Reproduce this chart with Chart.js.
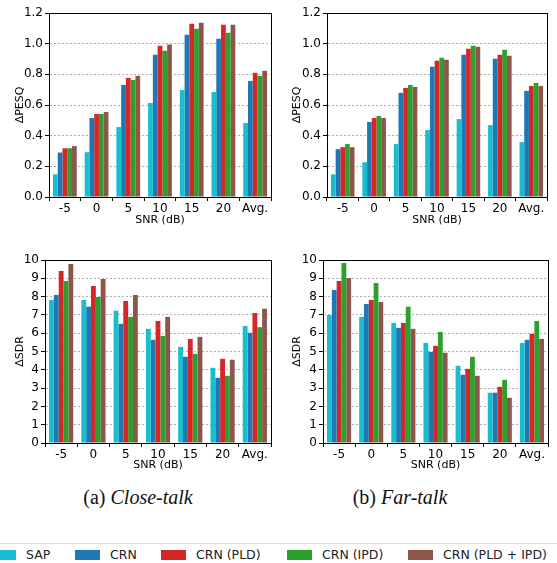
<!DOCTYPE html>
<html>
<head>
<meta charset="utf-8">
<script src="https://cdn.jsdelivr.net/npm/chart.js@4"></script>
<style>
  body { margin: 0; background: #fff; width: 557px; height: 563px; overflow: hidden; position: relative; font-family: "DejaVu Sans", sans-serif; }
  .box { position: absolute; }
  .caption { position: absolute; top: 486px; width: 200px; text-align: center; font-family: "Liberation Serif", serif; font-size: 20px; color: #111; }
  .caption i { font-style: italic; }
  #legend { position: absolute; left: 0; top: 543px; width: 557px; height: 20px; border-top: 1px solid #ddd; overflow: hidden; }
  #legend .item { position: absolute; top: 3px; white-space: nowrap; font-size: 12.5px; color: #222; line-height: 15px; }
  #legend .sw { display: inline-block; width: 25px; height: 10px; vertical-align: -1px; margin-right: 10px; }
</style>
</head>
<body>
<div class="box" style="left:0;top:0;width:277px;height:230px"><canvas id="pesqClose"></canvas></div>
<div class="box" style="left:277px;top:0;width:280px;height:230px"><canvas id="pesqFar"></canvas></div>
<div class="box" style="left:0;top:245px;width:277px;height:230px"><canvas id="sdrClose"></canvas></div>
<div class="box" style="left:277px;top:245px;width:280px;height:230px"><canvas id="sdrFar"></canvas></div>
<div class="caption" style="left:38px">(a) <i>Close-talk</i></div>
<div class="caption" style="left:300px">(b) <i>Far-talk</i></div>
<div id="legend"></div>
<script>
// categories and series
const snrLabels = ['-5', '0', '5', '10', '15', '20', 'Avg.'];
const seriesNames = ['SAP', 'CRN', 'CRN (PLD)', 'CRN (IPD)', 'CRN (PLD + IPD)'];
const seriesColors = ['#17becf', '#1f77b4', '#d62728', '#2ca02c', '#8c564b'];

// tick labels
const pesqTicks = [0.0, 0.2, 0.4, 0.6, 0.8, 1.0, 1.2];
const sdrTicks = [0, 1, 2, 3, 4, 5, 6, 7, 8, 9, 10];

// ΔPESQ, close-talk
const pesqCloseSAP = [0.148, 0.292, 0.456, 0.613, 0.698, 0.685, 0.482];
const pesqCloseCRN = [0.290, 0.515, 0.731, 0.927, 1.058, 1.032, 0.757];
const pesqClosePLD = [0.318, 0.541, 0.777, 0.986, 1.130, 1.124, 0.810];
const pesqCloseIPD = [0.318, 0.541, 0.764, 0.954, 1.098, 1.071, 0.790];
const pesqCloseBoth = [0.332, 0.554, 0.790, 0.995, 1.137, 1.124, 0.823];

// ΔPESQ, far-talk
const pesqFarSAP = [0.148, 0.227, 0.345, 0.436, 0.508, 0.469, 0.358];
const pesqFarCRN = [0.312, 0.489, 0.679, 0.849, 0.927, 0.901, 0.692];
const pesqFarPLD = [0.325, 0.515, 0.711, 0.888, 0.967, 0.927, 0.724];
const pesqFarIPD = [0.345, 0.528, 0.731, 0.908, 0.986, 0.960, 0.744];
const pesqFarBoth = [0.325, 0.515, 0.718, 0.895, 0.980, 0.921, 0.724];

// ΔSDR, close-talk
const sdrCloseSAP = [7.82, 7.82, 7.22, 6.24, 5.25, 4.11, 6.40];
const sdrCloseCRN = [8.09, 7.44, 6.51, 5.64, 4.71, 3.56, 6.02];
const sdrClosePLD = [9.40, 8.58, 7.76, 6.67, 5.69, 4.60, 7.11];
const sdrCloseIPD = [8.85, 7.98, 6.89, 5.85, 4.87, 3.67, 6.33];
const sdrCloseBoth = [9.78, 8.96, 8.09, 6.89, 5.80, 4.55, 7.33];

// ΔSDR, far-talk
const sdrFarSAP = [7.00, 6.89, 6.56, 5.47, 4.22, 2.75, 5.47];
const sdrFarCRN = [8.36, 7.60, 6.29, 4.98, 3.73, 2.75, 5.64];
const sdrFarPLD = [8.85, 7.82, 6.56, 5.31, 4.05, 3.07, 5.96];
const sdrFarIPD = [9.84, 8.75, 7.44, 6.07, 4.71, 3.45, 6.67];
const sdrFarBoth = [9.02, 7.71, 6.24, 4.93, 3.67, 2.47, 5.69];

const FONT = '"DejaVu Sans", sans-serif';

// black frame round the plot area, like the matplotlib axes box
const frame = {
    id: 'frame',
    afterDraw(chart) {
        const a = chart.chartArea;
        const ctx = chart.ctx;
        ctx.save();
        ctx.strokeStyle = '#000';
        ctx.lineWidth = 1;
        ctx.strokeRect(Math.round(a.left) + 0.5, Math.round(a.top) + 0.5, Math.round(a.right - a.left), Math.round(a.bottom - a.top));
        ctx.restore();
    }
};

function makeChart(id, series, yTitle, ticks, decimals, box) {
    const datasets = series.map((values, i) => ({
        label: seriesNames[i],
        data: values,
        backgroundColor: seriesColors[i],
        borderWidth: 0,
        categoryPercentage: 0.75,
        barPercentage: 1.0
    }));
    return new Chart(document.getElementById(id), {
        type: 'bar',
        data: { labels: snrLabels, datasets: datasets },
        plugins: [frame],
        options: {
            responsive: true,
            maintainAspectRatio: false,
            animation: false,
            layout: { padding: { top: box.top, right: box.right, left: 0, bottom: 0 } },
            plugins: { legend: { display: false }, tooltip: { enabled: false } },
            scales: {
                x: {
                    afterFit: function(scale) { scale.height = box.xh; },
                    grid: { drawOnChartArea: false, tickLength: 4, tickColor: '#000' },
                    border: { color: '#000' },
                    ticks: { color: '#000', padding: 1, autoSkip: false, maxRotation: 0, minRotation: 0, font: { family: FONT, size: 12 } },
                    title: { display: true, text: 'SNR (dB)', color: '#000', padding: 3, font: { family: FONT, size: 11 } }
                },
                y: {
                    min: ticks[0],
                    max: ticks[ticks.length - 1],
                    afterFit: function(scale) { scale.width = box.yw; },
                    afterBuildTicks: function(scale) { scale.ticks = ticks.map(v => ({ value: v })); },
                    grid: { color: '#b0b0b0', tickColor: '#000', tickLength: 4, tickBorderDash: [] },
                    border: { color: '#000', dash: [2, 2] },
                    ticks: {
                        color: '#000', padding: 2, font: { family: FONT, size: 12 },
                        callback: function(value) { return value.toFixed(decimals); }
                    },
                    title: { display: true, text: yTitle, color: '#000', padding: 14, font: { family: FONT, size: 11 } }
                }
            }
        }
    });
}

makeChart('pesqClose', [pesqCloseSAP, pesqCloseCRN, pesqClosePLD, pesqCloseIPD, pesqCloseBoth],
    'ΔPESQ', pesqTicks, 1, { top: 13, right: 6, yw: 49, xh: 33 });
makeChart('pesqFar', [pesqFarSAP, pesqFarCRN, pesqFarPLD, pesqFarIPD, pesqFarBoth],
    'ΔPESQ', pesqTicks, 1, { top: 13, right: 10, yw: 50, xh: 33 });
makeChart('sdrClose', [sdrCloseSAP, sdrCloseCRN, sdrClosePLD, sdrCloseIPD, sdrCloseBoth],
    'ΔSDR', sdrTicks, 0, { top: 15, right: 6, yw: 45, xh: 32 });
makeChart('sdrFar', [sdrFarSAP, sdrFarCRN, sdrFarPLD, sdrFarIPD, sdrFarBoth],
    'ΔSDR', sdrTicks, 0, { top: 15, right: 9, yw: 46, xh: 32 });

// legend strip along the bottom, wider than the page so the last entry is cut
const legendLeft = [-9, 75, 161, 287, 408];
const legend = document.getElementById('legend');
seriesNames.forEach((name, i) => {
    const item = document.createElement('div');
    item.className = 'item';
    item.style.left = legendLeft[i] + 'px';
    item.innerHTML = '<span class="sw" style="background:' + seriesColors[i] + '"></span>' + name;
    legend.appendChild(item);
});
</script>
</body>
</html>
